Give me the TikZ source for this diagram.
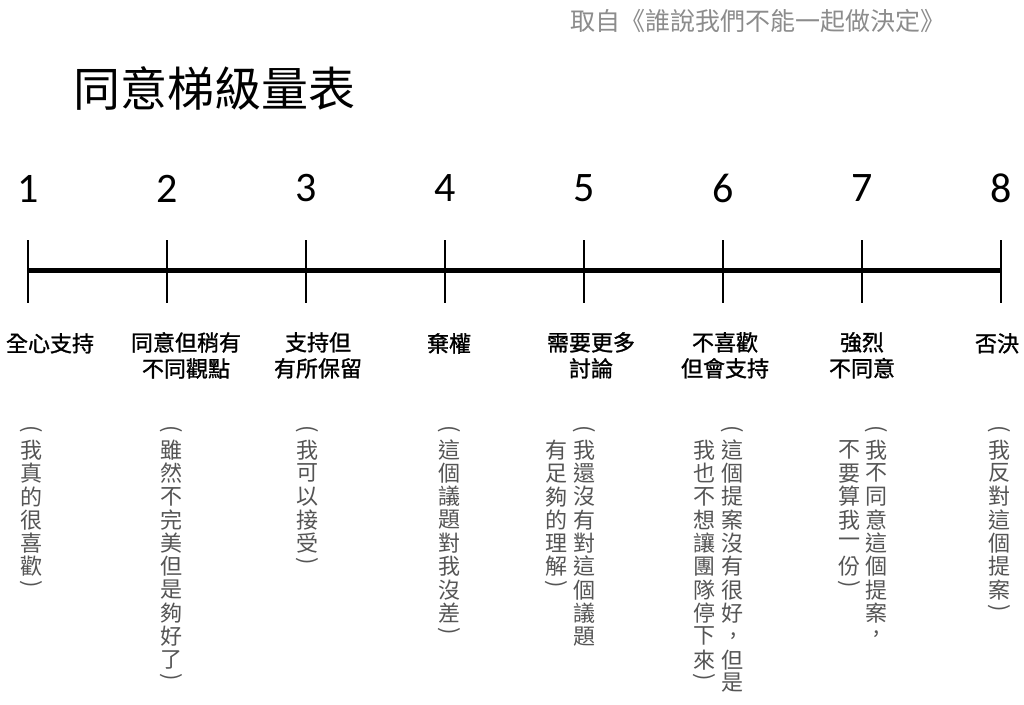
\documentclass[tikz,border=0pt]{standalone}
\usepackage{fontspec}
\newfontfamily\cjk{Noto Sans CJK TC}
\newfontfamily\cjkm[FakeBold=1.2]{Noto Sans CJK TC}
\newfontfamily\numf{Carlito}
\definecolor{vgray}{HTML}{555555}
\definecolor{cgray}{HTML}{8C8C8C}
\newcommand\vchars[3]{% name, x, list (row 0 = first char below the opening bracket)
  \foreach \c [count=\i from 0] in {#3} {\node[vch] (#1-\i) at (#2,{450+\i*23.3}) {\c};}}
\begin{document}
\begin{tikzpicture}[x=1pt,y=-1pt,
  lbl/.style={font=\cjkm\fontsize{22}{26}\selectfont, align=center, anchor=north, inner sep=0pt},
  vch/.style={font=\cjk\fontsize{22}{22}\selectfont, text=vgray, inner sep=0pt},
  vopen/.style={vch, rotate=-90},
  vcomma/.style={vch},
  numlbl/.style={font=\numf\fontsize{42}{42}\selectfont, inner sep=0pt},
  tickline/.style={line width=2.5pt},
  axisline/.style={line width=5pt}]
\useasboundingbox (0,0) rectangle (1024,704);
\fill[white] (0,0) rectangle (1024,704);
% credit and title
\node[font=\cjk\fontsize{25}{25}\selectfont, text=cgray, inner sep=0pt] (credit) at (758,21) {取自《誰說我們不能一起做決定》};
\node[font=\cjk\fontsize{47}{47}\selectfont, anchor=west, inner sep=0pt] (title) at (73,88) {同意梯級量表};
% axis
\foreach \i/\x in {1/28,2/167,3/306,4/445,5/584,6/723,7/862,8/1001} {
  \coordinate (t\i) at (\x,270);
  \coordinate (t\i a) at (\x,240);
  \coordinate (t\i b) at (\x,303);
  \draw[tickline] (t\i a) -- (t\i b);
  \node[numlbl] (n\i) at (\x,188.5) {\i};
}
\draw[axisline] (t1) -- (t8);
% labels
\node[lbl] (l1) at (50,333) {全心支持};
\node[lbl] (l2) at (186,332) {同意但稍有\\不同觀點};
\node[lbl] (l3) at (318,332) {支持但\\有所保留};
\node[lbl] (l4) at (449,333) {棄權};
\node[lbl] (l5) at (591,332) {需要更多\\討論};
\node[lbl] (l6) at (725,332) {不喜歡\\但會支持};
\node[lbl] (l7) at (862,332) {強烈\\不同意};
\node[lbl] (l8) at (997,333) {否決};
% vertical texts
\node[vopen] (v1o) at (31,429) {(};
\vchars{v1}{31}{我,真,的,很,喜,歡}
\node[vopen] (v1c) at (31,{450+5*23.3+18}) {)};

\node[vopen] (v2o) at (171,429) {(};
\vchars{v2}{171}{雖,然,不,完,美,但,是,夠,好,了}
\node[vopen] (v2c) at (171,{450+9*23.3+18}) {)};

\node[vopen] (v3o) at (307,429) {(};
\vchars{v3}{307}{我,可,以,接,受}
\node[vopen] (v3c) at (307,{450+4*23.3+18}) {)};

\node[vopen] (v4o) at (449,429) {(};
\vchars{v4}{449}{這,個,議,題,對,我,沒,差}
\node[vopen] (v4c) at (449,{450+7*23.3+18}) {)};

\node[vopen] (v5o) at (584,429) {(};
\vchars{v5r}{584}{我,還,沒,有,對,這,個,議,題}
\vchars{v5l}{556}{有,足,夠,的,理,解}
\node[vopen] (v5c) at (556,{450+5*23.3+18}) {)};

\node[vopen] (v6o) at (732,429) {(};
\vchars{v6r}{732}{這,個,提,案,沒,有,很,好}
\node[vcomma] (v6k) at (734,636) {,};
\node[vch] (v6r-9) at (732,{450+9*23.3}) {但};
\node[vch] (v6r-10) at (732,{450+10*23.3}) {是};
\vchars{v6l}{704}{我,也,不,想,讓,團,隊,停,下,來}
\node[vopen] (v6c) at (704,{450+9*23.3+18}) {)};

\node[vopen] (v7o) at (876,429) {(};
\vchars{v7r}{876}{我,不,同,意,這,個,提,案}
\node[vcomma] (v7k) at (877,634) {,};
\vchars{v7l}{849}{不,要,算,我,一,份}
\node[vopen] (v7c) at (849,{450+5*23.3+18}) {)};

\node[vopen] (v8o) at (999,429) {(};
\vchars{v8}{999}{我,反,對,這,個,提,案}
\node[vopen] (v8c) at (999,{450+6*23.3+18}) {)};
\end{tikzpicture}
\end{document}
